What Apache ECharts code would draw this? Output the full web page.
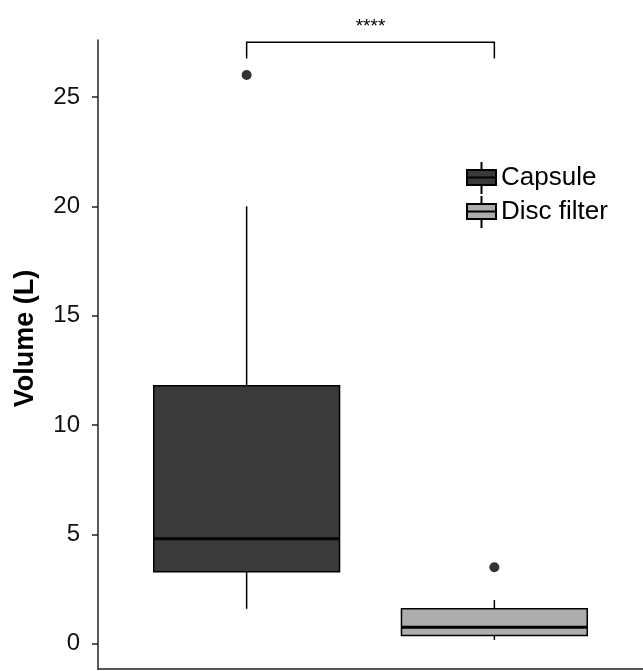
<!DOCTYPE html>
<html>
<head>
<meta charset="utf-8">
<script src="https://cdn.jsdelivr.net/npm/echarts@6/dist/echarts.min.js"></script>
<style>
  html, body { margin: 0; padding: 0; background: #fff; }
  #chart { width: 643px; height: 671px; }
</style>
</head>
<body>
<div id="chart"></div>
<script>
// groups, drawn at x = 1 and x = 2
var groups = ['Capsule', 'Disc filter']
var groupPos = [1, 2]
var groupColors = ['#3a3a3a', '#adadad']

// box statistics (L)
var whiskerLow = [1.6, 0.18]
var q1 = [3.3, 0.38]
var median = [4.8, 0.76]
var q3 = [11.8, 1.6]
var whiskerHigh = [20.0, 2.0]

// outliers [group position, value]
var outliers = [[1, 26.0], [2, 3.5]]

// significance bracket [from, to, top, foot]
var bracket = [[1, 2, 27.5, 26.75]]
var bracketLabel = '****'

var yTicks = [0, 5, 10, 15, 20, 25]

var FONT = '"Liberation Sans", Arial, Helvetica, sans-serif'
var BOX_WIDTH = 0.75

// box + whiskers + median, all through the axes
function renderBox(params, api) {
  var x = api.value(0)
  var w = api.size([BOX_WIDTH, 0])[0]
  var pLow = api.coord([x, api.value(1)])
  var pQ1 = api.coord([x, api.value(2)])
  var pMed = api.coord([x, api.value(3)])
  var pQ3 = api.coord([x, api.value(4)])
  var pHigh = api.coord([x, api.value(5)])
  var color = api.visual('color')
  var thin = { stroke: '#000', lineWidth: 1.5 }
  return {
    type: 'group',
    children: [
      { type: 'line', shape: { x1: pLow[0], y1: pLow[1], x2: pQ1[0], y2: pQ1[1] }, style: thin },
      { type: 'line', shape: { x1: pQ3[0], y1: pQ3[1], x2: pHigh[0], y2: pHigh[1] }, style: thin },
      {
        type: 'rect',
        shape: { x: pQ1[0] - w / 2, y: pQ3[1], width: w, height: pQ1[1] - pQ3[1] },
        style: { fill: color, stroke: '#000', lineWidth: 1.5 }
      },
      {
        type: 'line',
        shape: { x1: pMed[0] - w / 2, y1: pMed[1], x2: pMed[0] + w / 2, y2: pMed[1] },
        style: { stroke: '#000', lineWidth: 3 }
      }
    ]
  }
}

function renderBracket(params, api) {
  var a = api.coord([api.value(0), api.value(3)])
  var b = api.coord([api.value(0), api.value(2)])
  var c = api.coord([api.value(1), api.value(2)])
  var d = api.coord([api.value(1), api.value(3)])
  return {
    type: 'group',
    children: [
      {
        type: 'polyline',
        shape: { points: [a, b, c, d] },
        style: { fill: null, stroke: '#000', lineWidth: 1.5 }
      },
      {
        type: 'text',
        x: (b[0] + c[0]) / 2,
        y: b[1] - 15,
        style: { text: bracketLabel, fill: '#000', font: '19px ' + FONT, align: 'center', verticalAlign: 'middle' }
      }
    ]
  }
}

var boxSeries = groups.map(function (name, i) {
  return {
    name: name,
    type: 'custom',
    renderItem: renderBox,
    itemStyle: { color: groupColors[i] },
    encode: { x: 0, y: [1, 2, 3, 4, 5] },
    clip: false,
    data: [[groupPos[i], whiskerLow[i], q1[i], median[i], q3[i], whiskerHigh[i]]],
    z: 2
  }
})

var legendIcon = 'path://M0,8L29,8L29,23L0,23Z M0,15.5L29,15.5 M14.5,0L14.5,8 M14.5,23L14.5,32'

var chart = echarts.init(document.getElementById('chart'))
chart.setOption({
  animation: false,
  backgroundColor: '#fff',
  grid: { left: 98, right: -5, top: 40, bottom: 2 },
  legend: {
    orient: 'vertical',
    left: 466,
    top: 161,
    padding: 0,
    itemGap: 0,
    itemWidth: 29,
    itemHeight: 32,
    textStyle: { fontFamily: FONT, fontSize: 26, color: '#000' },
    data: groups.map(function (name, i) {
      return {
        name: name,
        icon: legendIcon,
        itemStyle: { color: groupColors[i], borderColor: '#000', borderWidth: 2 }
      }
    })
  },
  xAxis: {
    type: 'value',
    min: 0.4,
    max: 2.6,
    axisLine: { onZero: false, lineStyle: { color: '#222', width: 1.5 } },
    axisTick: { show: false },
    axisLabel: { show: false },
    splitLine: { show: false }
  },
  yAxis: {
    type: 'value',
    min: -1.15,
    max: 27.6,
    splitNumber: 6,
    name: 'Volume (L)',
    nameLocation: 'middle',
    nameGap: 59,
    nameTextStyle: {
      fontFamily: FONT,
      fontSize: 27,
      fontWeight: 'bold',
      color: '#000',
      padding: [0, 0, 0, 32]
    },
    axisLine: { onZero: false, lineStyle: { color: '#222', width: 1.5 } },
    axisTick: { length: 6, lineStyle: { color: '#222', width: 1.5 } },
    axisLabel: {
      fontFamily: FONT,
      fontSize: 24,
      color: '#111',
      margin: 18,
      showMinLabel: false,
      showMaxLabel: false,
      formatter: function (v) { return yTicks.indexOf(v) >= 0 ? String(v) : '' }
    },
    splitLine: { show: false }
  },
  series: boxSeries.concat([
    {
      name: 'outliers',
      type: 'scatter',
      symbol: 'circle',
      symbolSize: 10,
      itemStyle: { color: '#000' },
      data: outliers,
      z: 3
    },
    {
      name: 'significance',
      type: 'custom',
      renderItem: renderBracket,
      encode: { x: [0, 1], y: [2, 3] },
      clip: false,
      data: bracket,
      z: 3
    }
  ])
})
</script>
</body>
</html>
